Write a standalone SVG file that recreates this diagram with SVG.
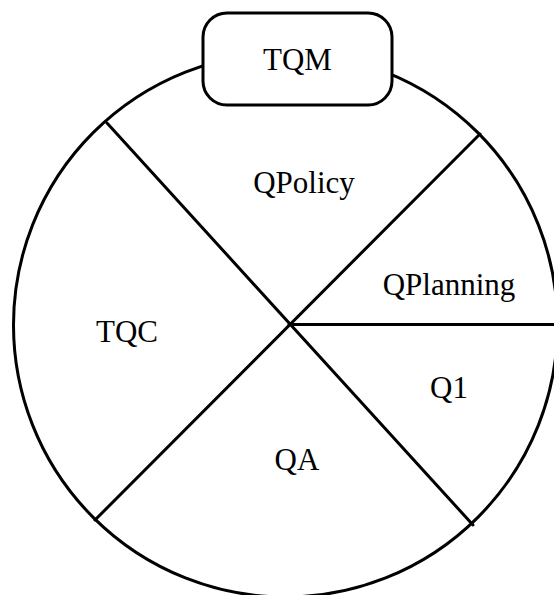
<svg xmlns="http://www.w3.org/2000/svg" width="554" height="595" viewBox="0 0 554 595">
<style>
.ln{stroke:#000;stroke-width:3;fill:none;stroke-linecap:round}
.lbl{font-family:"Liberation Serif","Times New Roman",serif;font-size:31px;fill:#000;text-anchor:middle}
</style>
<rect width="554" height="595" fill="#fff"/>
<g id="wheel">
<circle class="ln" cx="285.5" cy="325" r="272"/>
</g>
<g id="connectors">
<line class="ln" x1="107" y1="123" x2="473" y2="525"/>
<line class="ln" x1="480" y1="134" x2="95" y2="520"/>
<line class="ln" x1="289" y1="324.5" x2="554" y2="324.5"/>
</g>
<g id="tqm">
<rect x="203" y="13" width="189" height="92" rx="24" ry="24" fill="#fff" stroke="#000" stroke-width="3"/>
<text class="lbl" x="297.5" y="70">TQM</text>
</g>
<g id="qpolicy"><text class="lbl" x="304" y="193">QPolicy</text></g>
<g id="qplanning"><text class="lbl" x="449" y="295">QPlanning</text></g>
<g id="tqc"><text class="lbl" x="127" y="342">TQC</text></g>
<g id="q1"><text class="lbl" x="449" y="398">Q1</text></g>
<g id="qa"><text class="lbl" x="297" y="470">QA</text></g>
</svg>
